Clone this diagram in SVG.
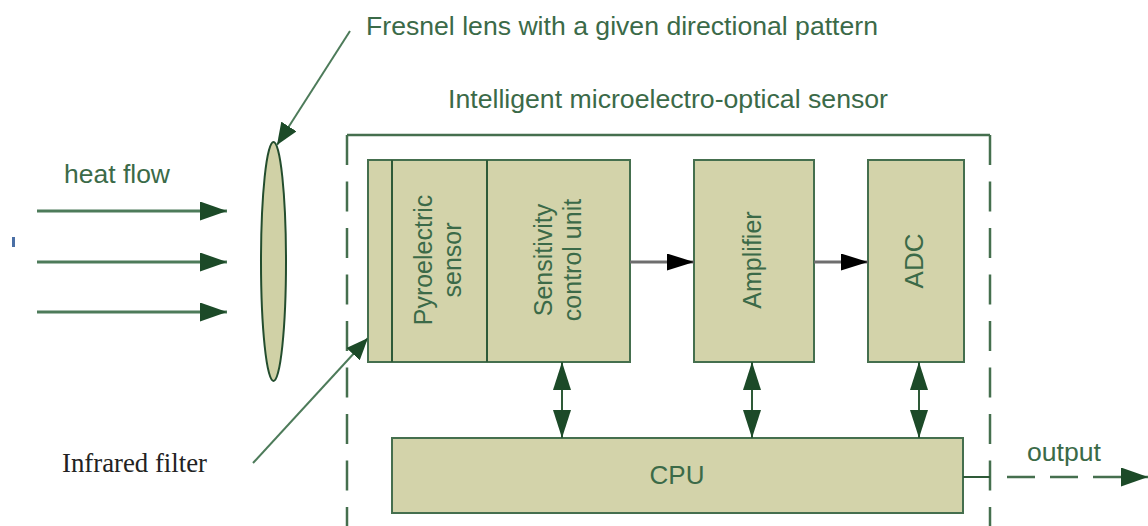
<svg xmlns="http://www.w3.org/2000/svg" width="1148" height="526" viewBox="0 0 1148 526">
  <style>
    .lbl { font-family: "Liberation Sans", Arial, sans-serif; fill: #3b6a48; }
    .serif { font-family: "Liberation Serif", "Times New Roman", serif; fill: #222222; }
    .box { fill: #d3d3aa; stroke: #456f4e; stroke-width: 2; }
    .div { stroke: #2e5a38; stroke-width: 2; }
    .flow { stroke: #4d7b5a; stroke-width: 3; fill: none; }
    .ptr { stroke: #4d7b5a; stroke-width: 2; fill: none; }
    .sig { stroke: #6e6e6e; stroke-width: 3; fill: none; }
    .bus { stroke: #2e5a38; stroke-width: 2; fill: none; }
    .frame { stroke: #456f4e; stroke-width: 2.5; fill: none; }
  </style>
  <defs>
    <marker id="headGreen" viewBox="0 0 10 10" preserveAspectRatio="none" refX="10" refY="5" markerUnits="userSpaceOnUse" markerWidth="27" markerHeight="19" orient="auto">
      <path d="M0,0 L10,5 L0,10 z" fill="#1c4a28"/>
    </marker>
    <marker id="headPtr" viewBox="0 0 10 10" preserveAspectRatio="none" refX="10" refY="5" markerUnits="userSpaceOnUse" markerWidth="22" markerHeight="18" orient="auto">
      <path d="M0,0 L10,5 L0,10 z" fill="#1c4a28"/>
    </marker>
    <marker id="headBus" viewBox="0 0 10 10" preserveAspectRatio="none" refX="10" refY="5" markerUnits="userSpaceOnUse" markerWidth="28" markerHeight="18" orient="auto-start-reverse">
      <path d="M0,0 L10,5 L0,10 z" fill="#1c4a28"/>
    </marker>
    <marker id="headBlack" viewBox="0 0 10 10" preserveAspectRatio="none" refX="10" refY="5" markerUnits="userSpaceOnUse" markerWidth="27" markerHeight="17" orient="auto">
      <path d="M0,0 L10,5 L0,10 z" fill="#000000"/>
    </marker>
  </defs>

  <!-- stray mark at the left edge -->
  <rect x="12" y="237" width="3" height="10" fill="#4a6fa5"/>

  <!-- titles -->
  <text class="lbl" x="366" y="35" font-size="26" textLength="512" lengthAdjust="spacingAndGlyphs">Fresnel lens with a given directional pattern</text>
  <text class="lbl" x="448" y="108" font-size="26" textLength="440" lengthAdjust="spacingAndGlyphs">Intelligent microelectro-optical sensor</text>
  <text class="lbl" x="64" y="183" font-size="26" textLength="106" lengthAdjust="spacingAndGlyphs">heat flow</text>
  <text class="serif" x="62" y="472" font-size="27" textLength="145" lengthAdjust="spacingAndGlyphs">Infrared filter</text>
  <text class="lbl" x="1027" y="461" font-size="26" textLength="74" lengthAdjust="spacingAndGlyphs">output</text>

  <!-- sensor enclosure -->
  <g id="enclosure">
    <line class="frame" x1="347" y1="135" x2="990" y2="135"/>
    <line class="frame" x1="347" y1="135" x2="347" y2="526" stroke-dasharray="30 16.5"/>
    <line class="frame" x1="990" y1="135" x2="990" y2="526" stroke-dasharray="30 16.5"/>
  </g>

  <!-- Fresnel lens -->
  <g id="lens">
    <ellipse cx="273.5" cy="261.5" rx="12.5" ry="119.5" fill="#d0d1a6" stroke="#234d2e" stroke-width="2"/>
  </g>

  <!-- sensor front end: filter strip, pyroelectric sensor, sensitivity control -->
  <g id="frontend">
    <rect class="box" x="368" y="160" width="262" height="202"/>
    <line class="div" x1="392" y1="160" x2="392" y2="362"/>
    <line class="div" x1="487" y1="160" x2="487" y2="362"/>
    <text class="lbl" font-size="25" text-anchor="middle" transform="translate(432,260) rotate(-90)">Pyroelectric</text>
    <text class="lbl" font-size="25" text-anchor="middle" transform="translate(461,260) rotate(-90)">sensor</text>
    <text class="lbl" font-size="25" text-anchor="middle" transform="translate(552,260) rotate(-90)">Sensitivity</text>
    <text class="lbl" font-size="25" text-anchor="middle" transform="translate(581,260) rotate(-90)">control unit</text>
  </g>

  <g id="amplifier">
    <rect class="box" x="694" y="160" width="120" height="202"/>
    <text class="lbl" font-size="25" text-anchor="middle" transform="translate(761,260) rotate(-90)">Amplifier</text>
  </g>

  <g id="adc">
    <rect class="box" x="868" y="160" width="96" height="202"/>
    <text class="lbl" font-size="26" text-anchor="middle" transform="translate(923,261) rotate(-90)">ADC</text>
  </g>

  <g id="cpu">
    <rect class="box" x="392" y="438" width="571" height="75"/>
    <text class="lbl" x="677" y="484" font-size="26" text-anchor="middle">CPU</text>
  </g>

  <!-- connectors -->
  <g id="connectors">
    <line class="flow" x1="37" y1="211" x2="227" y2="211" marker-end="url(#headGreen)"/>
    <line class="flow" x1="37" y1="262" x2="227" y2="262" marker-end="url(#headGreen)"/>
    <line class="flow" x1="37" y1="312" x2="227" y2="312" marker-end="url(#headGreen)"/>

    <line class="ptr" x1="350" y1="31" x2="277" y2="145" marker-end="url(#headPtr)"/>
    <line class="ptr" x1="253" y1="463" x2="368" y2="338" marker-end="url(#headPtr)"/>

    <line class="sig" x1="630" y1="262" x2="694" y2="262" marker-end="url(#headBlack)"/>
    <line class="sig" x1="814" y1="262" x2="868" y2="262" marker-end="url(#headBlack)"/>

    <line class="bus" x1="562" y1="362" x2="562" y2="438" marker-start="url(#headBus)" marker-end="url(#headBus)"/>
    <line class="bus" x1="752" y1="362" x2="752" y2="438" marker-start="url(#headBus)" marker-end="url(#headBus)"/>
    <line class="bus" x1="919" y1="362" x2="919" y2="438" marker-start="url(#headBus)" marker-end="url(#headBus)"/>

    <line class="bus" x1="963" y1="477" x2="990" y2="477"/>
    <line class="frame" x1="1007" y1="477" x2="1148" y2="477" stroke-dasharray="28 15" marker-end="url(#headGreen)"/>
  </g>
</svg>
